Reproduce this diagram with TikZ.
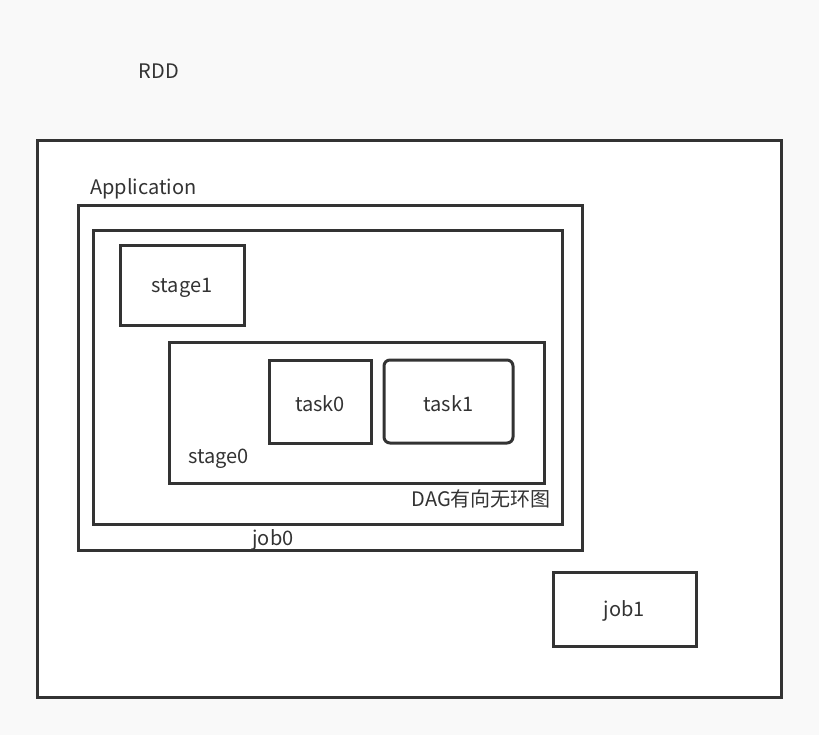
\documentclass[tikz,border=0pt]{standalone}
\usepackage{fontspec}
\setmainfont{Noto Sans CJK SC}
\definecolor{bg}{HTML}{F9F9F9}
\definecolor{ink}{HTML}{333333}
\begin{document}
\begin{tikzpicture}[x=1pt,y=-1pt,
  box/.style={draw=ink,line width=3pt,fill=white,inner sep=0pt,outer sep=0pt,anchor=north west},
  lbl/.style={font=\fontsize{20}{23}\selectfont,text=ink,inner sep=0pt}]
\fill[bg] (0,0) rectangle (819,735);
\useasboundingbox (0,0) rectangle (819,735);
\node[box,minimum width=744pt,minimum height=556pt] (rddbox) at (37,141) {};
\node[box,minimum width=504pt,minimum height=344pt] (appbox) at (78,206) {};
\node[box,minimum width=469pt,minimum height=293pt] (job0box) at (93,231) {};
\node[box,minimum width=124pt,minimum height=79pt] (stage1) at (120,246) {};
\node[lbl,yshift=-2pt] at (stage1.center) {stage1};
\node[box,minimum width=375pt,minimum height=141pt] (stage0box) at (169,342) {};
\node[box,minimum width=102pt,minimum height=83pt] (task0) at (269,360) {};
\node[lbl,yshift=-2pt] at (task0.center) {task0};
\node[box,rounded corners=6pt,minimum width=129pt,minimum height=83pt] (task1) at (384,360) {};
\node[lbl,yshift=-2pt] at (task1.center) {task1};
\node[box,minimum width=143pt,minimum height=74pt] (job1) at (553,572) {};
\node[lbl,yshift=-2pt] at (job1.center) {job1};
\node[lbl] (rdd) at (159,71) {RDD};
\node[lbl,anchor=west] (app) at (90,189) {Application};
\node[lbl,anchor=west] (st0) at (188,459) {stage0};
\node[lbl,anchor=east] (dag) at (551,499) {DAG有向无环图};
\node[lbl] (job0) at (273,540) {job0};
\end{tikzpicture}
\end{document}
